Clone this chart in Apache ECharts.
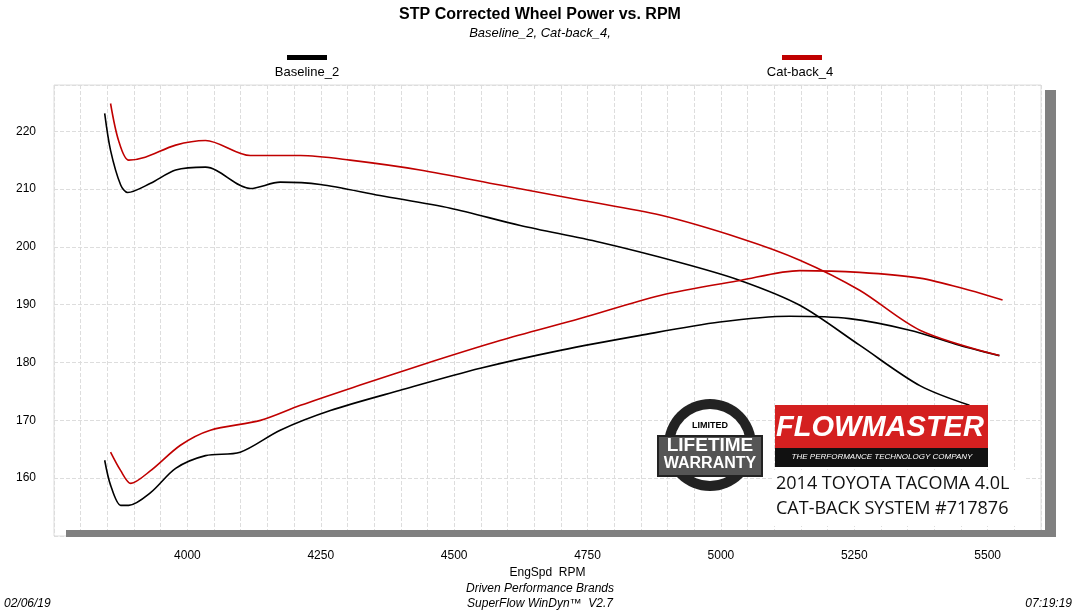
<!DOCTYPE html><html><head><meta charset="utf-8"><script src="https://cdn.jsdelivr.net/npm/echarts@6/dist/echarts.min.js"></script>
<style>body{margin:0}#c{width:1080px;height:614px}</style></head><body><div id="c"></div><script>
const basePowerRpm=[3845,3856,3875,3888,3931,3978,4034,4118,4174,4249,4361,4493,4624,4773,4923,5036,5148,5260,5373,5466];
const basePower=[223.1,216.7,210.7,209.4,211,213.3,213.8,210.1,211.2,210.8,208.9,206.7,203.7,200.8,197.3,194.2,189.9,183,176,172.6];
const baseLowRpm=[3845,3856,3875,3890,3931,3978,4034,4099,4174,4268,4399,4549,4699,4849,4998,5129,5241,5354,5447,5522];
const baseLow=[163.1,158.8,155.3,155.3,157.5,161.7,163.9,164.5,168.3,171.7,175.2,179,182.1,184.7,187,188,187.6,185.6,183,181.2];
const catPowerRpm=[3856,3871,3890,3921,3978,4034,4118,4212,4305,4436,4586,4736,4886,5036,5148,5260,5373,5522];
const catPower=[224.8,218.4,215,215.5,217.6,218.4,215.8,215.8,215,213.3,210.7,208.1,205.5,201.5,197.7,192.5,185.6,181.2];
const catLowRpm=[3856,3875,3894,3931,3987,4043,4137,4212,4324,4436,4586,4736,4886,5036,5148,5260,5373,5466,5528];
const catLow=[164.5,161.3,159.1,161.3,165.7,168.3,170,172.6,176.1,179.5,183.8,187.6,191.6,194.2,195.9,195.6,194.6,192.5,190.8];
const pair=(a,b)=>a.map((x,i)=>[x,b[i]]);
const c=echarts.init(document.getElementById('c'));
const ln=(name,d,col)=>({name,type:'line',data:d,showSymbol:false,smooth:0.3,lineStyle:{color:col,width:1.6},itemStyle:{color:col},animation:false,z:2});
const F='Liberation Sans, Arial';
const g=(o)=>Object.assign({z:100},o);
c.setOption({backgroundColor:'#fff',
title:{text:'STP Corrected Wheel Power vs. RPM',subtext:'Baseline_2, Cat-back_4,',left:'center',top:2,itemGap:4,
 textStyle:{fontFamily:F,fontSize:16,fontWeight:'bold',color:'#000'},subtextStyle:{fontFamily:F,fontSize:13,fontStyle:'italic',color:'#000'}},
grid:{left:54,right:39,top:85,bottom:78},
xAxis:{type:'value',min:3750,max:5600,interval:50,axisLine:{show:false},axisTick:{show:false},
 axisLabel:{fontFamily:F,fontSize:12,color:'#000',margin:14,formatter:v=>(v%250===0&&v>3750&&v<5600)?v:''},
 splitLine:{show:true,lineStyle:{type:'dashed',color:'#ddd'}},
 name:'EngSpd  RPM',nameLocation:'middle',nameGap:30,nameTextStyle:{fontFamily:F,fontSize:12,color:'#000'}},
yAxis:{type:'value',min:150,max:228,interval:10,axisLine:{show:false},axisTick:{show:false},
 axisLabel:{fontFamily:F,fontSize:12,color:'#000',margin:18,formatter:v=>(v>150&&v<=220)?v:''},
 splitLine:{show:true,lineStyle:{type:'dashed',color:'#ddd'}}},
series:[ln('Baseline_2',pair(basePowerRpm,basePower),'#000'),ln('Baseline_2 L',pair(baseLowRpm,baseLow),'#000'),
 ln('Cat-back_4',pair(catPowerRpm,catPower),'#c00000'),ln('Cat-back_4 L',pair(catLowRpm,catLow),'#c00000')],
graphic:[
 {type:'rect',shape:{x:54,y:85,width:987,height:451},style:{fill:'none',stroke:'#ddd'}},
 g({type:'rect',shape:{x:1045,y:90,width:11,height:447},style:{fill:'#808080'}}),
 g({type:'rect',shape:{x:66,y:530,width:990,height:7},style:{fill:'#808080'}}),
 {type:'rect',shape:{x:287,y:55,width:40,height:5},style:{fill:'#000'}},
 {type:'text',style:{x:307,y:66,text:'Baseline_2',align:'center',font:'13px '+F,fill:'#000'}},
 {type:'rect',shape:{x:782,y:55,width:40,height:5},style:{fill:'#c00000'}},
 {type:'text',style:{x:800,y:66,text:'Cat-back_4',align:'center',font:'13px '+F,fill:'#000'}},
 g({type:'circle',shape:{cx:710,cy:445,r:46},style:{fill:'#222'}}),
 g({type:'circle',shape:{cx:710,cy:445,r:36},style:{fill:'#fff'}}),
 g({type:'rect',shape:{x:658,y:436,width:104,height:40},style:{fill:'#555',stroke:'#222',lineWidth:2}}),
 g({type:'text',z:101,style:{x:710,y:436,text:'LIFETIME',align:'center',font:'bold 19px '+F,fill:'#fff'}}),
 g({type:'text',z:101,style:{x:710,y:456,text:'WARRANTY',align:'center',font:'bold 16px '+F,fill:'#fff'}}),
 g({type:'text',z:101,style:{x:710,y:421,text:'LIMITED',align:'center',font:'bold 9px '+F,fill:'#000'}}),
 g({type:'rect',shape:{x:775,y:405,width:213,height:45},style:{fill:'#d42020'}}),
 g({type:'rect',shape:{x:775,y:448,width:213,height:19},style:{fill:'#111'}}),
 g({type:'text',z:101,style:{x:880,y:413,text:'FLOWMASTER',align:'center',font:'italic bold 29px '+F,fill:'#fff'}}),
 g({type:'text',z:101,style:{x:882,y:453,text:'THE PERFORMANCE TECHNOLOGY COMPANY',align:'center',font:'italic 8px '+F,fill:'#fff'}}),
 g({type:'rect',shape:{x:774,y:470,width:250,height:56},style:{fill:'#fff'}}),
 g({type:'text',z:101,style:{x:776,y:475,text:'2014 TOYOTA TACOMA 4.0L',font:'18px Open Sans',fill:'#111'}}),
 g({type:'text',z:101,style:{x:776,y:500,text:'CAT-BACK SYSTEM #717876',font:'18px Open Sans',fill:'#111'}}),
 {type:'text',style:{x:540,y:583,text:'Driven Performance Brands',align:'center',font:'italic 12px '+F,fill:'#000'}},
 {type:'text',style:{x:540,y:598,text:'SuperFlow WinDyn\u2122  V2.7',align:'center',font:'italic 12px '+F,fill:'#000'}},
 {type:'text',style:{x:4,y:598,text:'02/06/19',font:'italic 12px '+F,fill:'#000'}},
 {type:'text',style:{x:1072,y:598,text:'07:19:19',align:'right',font:'italic 12px '+F,fill:'#000'}}
]});
</script></body></html>
